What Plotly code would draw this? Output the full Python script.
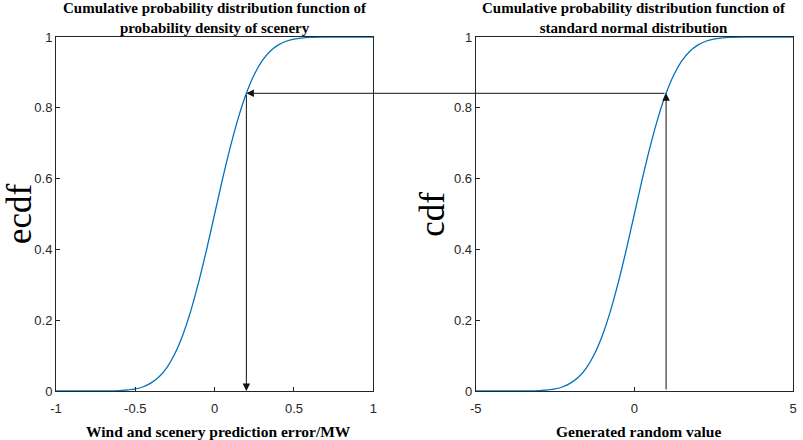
import plotly.graph_objects as go
from plotly.subplots import make_subplots

# data
err_x = [-1.0, -0.8, -0.7, -0.6, -0.5, -0.45, -0.4, -0.35, -0.3, -0.25, -0.2,
         -0.15, -0.1, -0.05, 0.0, 0.05, 0.1, 0.15, 0.2, 0.25, 0.3, 0.35, 0.4,
         0.45, 0.5, 0.6, 0.7, 0.8, 1.0]
ecdf_y = [0.0, 0.0, 0.0002, 0.0013, 0.006, 0.012, 0.023, 0.040, 0.067, 0.106,
          0.159, 0.227, 0.309, 0.401, 0.5, 0.599, 0.691, 0.773, 0.841, 0.894,
          0.933, 0.960, 0.977, 0.988, 0.994, 0.999, 1.0, 1.0, 1.0]

rand_x = [-5.0, -4.0, -3.5, -3.0, -2.5, -2.25, -2.0, -1.75, -1.5, -1.25, -1.0,
          -0.75, -0.5, -0.25, 0.0, 0.25, 0.5, 0.75, 1.0, 1.25, 1.5, 1.75, 2.0,
          2.25, 2.5, 3.0, 3.5, 4.0, 5.0]
cdf_y = [0.0, 0.0, 0.0002, 0.0013, 0.006, 0.012, 0.023, 0.040, 0.067, 0.106,
         0.159, 0.227, 0.309, 0.401, 0.5, 0.599, 0.691, 0.773, 0.841, 0.894,
         0.933, 0.960, 0.977, 0.988, 0.994, 0.999, 1.0, 1.0, 1.0]

z_sample = 1.0      # generated random value
p_sample = 0.841    # its cdf
err_sample = 0.2    # inverse on the scenery ecdf

x1_range = [-1, 1]
x2_range = [-5, 5]
x1_ticks = [-1, -0.5, 0, 0.5, 1]
x1_labels = ['-1', '-0.5', '0', '0.5', '1']
x2_ticks = [-5, 0, 5]
x2_labels = ['-5', '0', '5']
y_ticks = [0, 0.2, 0.4, 0.6, 0.8, 1]
y_labels = ['0', '0.2', '0.4', '0.6', '0.8', '1']

dom1 = [0, 0.4305]
dom2 = [0.5695, 1]

blue = '#0072BD'
ink = '#262626'
serif = 'Liberation Serif, Times New Roman, serif'
sans = 'Liberation Sans, Arial, sans-serif'

fig = make_subplots(rows=1, cols=2)

fig.add_trace(go.Scatter(x=err_x, y=ecdf_y, mode='lines', line_shape='spline',
                         line=dict(color=blue, width=1.3), showlegend=False), 1, 1)
fig.add_trace(go.Scatter(x=rand_x, y=cdf_y, mode='lines', line_shape='spline',
                         line=dict(color=blue, width=1.3), showlegend=False), 1, 2)

axis_style = dict(showgrid=False, zeroline=False, showline=True, mirror=True,
                  linecolor=ink, linewidth=1, ticks='inside', ticklen=4,
                  tickcolor=ink, tickfont=dict(family=sans, size=13, color=ink))

fig.update_xaxes(axis_style, ticklabelstandoff=5)
fig.update_yaxes(axis_style)
fig.update_xaxes(range=x1_range, tickvals=x1_ticks, ticktext=x1_labels, domain=dom1, row=1, col=1)
fig.update_xaxes(range=x2_range, tickvals=x2_ticks, ticktext=x2_labels, domain=dom2, row=1, col=2)
fig.update_yaxes(range=[0, 1], tickvals=y_ticks, ticktext=y_labels, row=1, col=1)
fig.update_yaxes(range=[0, 1], tickvals=y_ticks, ticktext=y_labels, row=1, col=2)

# tail of the horizontal arrow: z_sample on x2 expressed in x units
frac2 = dom2[0] + (z_sample - x2_range[0]) / (x2_range[1] - x2_range[0]) * (dom2[1] - dom2[0])
tail_x1 = x1_range[0] + (frac2 - dom1[0]) / (dom1[1] - dom1[0]) * (x1_range[1] - x1_range[0])

arrow = dict(showarrow=True, arrowhead=2, arrowsize=1.5, arrowwidth=1,
             arrowcolor='#111', text='', standoff=0, startstandoff=0)

annotations = [
    # up from z to the normal cdf
    dict(x=z_sample, y=p_sample, ax=z_sample, ay=0, xref='x2', yref='y2',
         axref='x2', ayref='y2', **arrow),
    # across to the scenery ecdf
    dict(x=err_sample, y=p_sample, ax=tail_x1, ay=p_sample, xref='x', yref='y',
         axref='x', ayref='y', **arrow),
    # down to the prediction error
    dict(x=err_sample, y=0, ax=err_sample, ay=p_sample, xref='x', yref='y',
         axref='x', ayref='y', **arrow),
]

title_font = dict(family=serif, size=15, color='black')
xtitle_font = dict(family=serif, size=15.5, color='black')
annotations += [
    dict(text='<b>Cumulative probability distribution function of<br>probability density of scenery</b>',
         x=sum(dom1) / 2, y=1, xref='paper', yref='paper', xanchor='center',
         yanchor='middle', yshift=19, showarrow=False, font=title_font),
    dict(text='<b>Cumulative probability distribution function of<br>standard normal distribution</b>',
         x=sum(dom2) / 2, y=1, xref='paper', yref='paper', xanchor='center',
         yanchor='middle', yshift=19, showarrow=False, font=title_font),
    dict(text='<b>Wind and scenery prediction error/MW</b>',
         x=sum(dom1) / 2, y=0, xref='paper', yref='paper', xanchor='center',
         yanchor='middle', yshift=-40, xshift=4, showarrow=False, font=xtitle_font),
    dict(text='<b>Generated random value</b>',
         x=sum(dom2) / 2, y=0, xref='paper', yref='paper', xanchor='center',
         yanchor='middle', yshift=-40, xshift=4, showarrow=False, font=xtitle_font),
    dict(text='ecdf', textangle=-90, x=dom1[0], y=0.5, xref='paper', yref='paper',
         xanchor='center', yanchor='middle', xshift=-37, showarrow=False,
         font=dict(family=serif, size=35, color='black')),
    dict(text='cdf', textangle=-90, x=dom2[0], y=0.5, xref='paper', yref='paper',
         xanchor='center', yanchor='middle', xshift=-44, showarrow=False,
         font=dict(family=serif, size=35, color='black')),
]

fig.update_layout(width=803, height=440, margin=dict(l=56, r=6, t=37, b=49),
                  plot_bgcolor='white', paper_bgcolor='white',
                  annotations=annotations, showlegend=False)

fig.write_html("out.html", config={'displayModeBar': False},
               post_script="document.body.style.margin='0';document.body.style.overflow='hidden';")
